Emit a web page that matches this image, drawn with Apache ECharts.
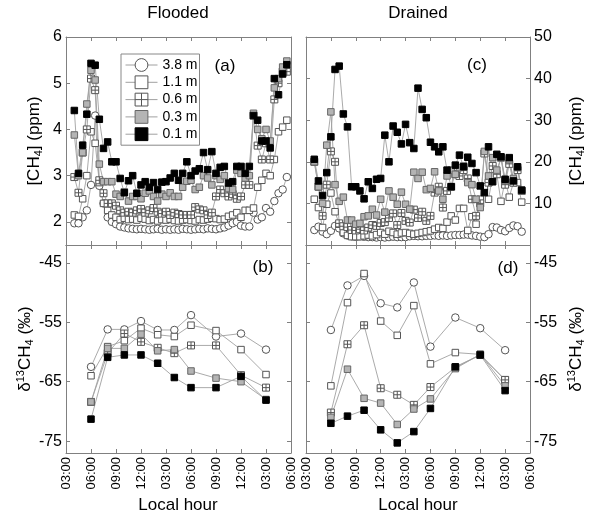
<!DOCTYPE html>
<html>
<head>
<meta charset="utf-8">
<script src="https://cdn.jsdelivr.net/npm/echarts@6/dist/echarts.min.js"></script>
<style>
html, body { margin: 0; padding: 0; background: #fff; }
#chart { width: 600px; height: 518px; }
</style>
</head>
<body>
<div id="chart"></div>
<script>
// sampling depths (legend order)
const depths = ['3.8 m', '1.1 m', '0.6 m', '0.3 m', '0.1 m']

// local hour (3 = 03:00 day 1, 30 = 06:00 day 2)
const floodedHours = [4.0, 4.5, 5.0, 5.5, 6.0, 6.5, 7.0, 7.5, 8.0, 8.5, 9.0, 9.5, 10.0, 10.5, 11.0, 11.5, 12.0, 12.5,
    13.0, 13.5, 14.0, 14.5, 15.0, 15.5, 16.0, 16.5, 17.0, 17.5, 18.0, 18.5, 19.0, 19.5, 20.0, 20.5, 21.0, 21.5,
    22.0, 22.5, 23.0, 23.5, 24.0, 24.5, 25.0, 25.5, 26.0, 26.5, 27.0, 27.5, 28.0, 28.5, 29.0, 29.5]
const drainedHours = [4.0, 4.5, 5.0, 5.5, 6.0, 6.5, 7.0, 7.5, 8.0, 8.5, 9.0, 9.5, 10.0, 10.5, 11.0, 11.5, 12.0, 12.5,
    13.0, 13.5, 14.0, 14.5, 15.0, 15.5, 16.0, 16.5, 17.0, 17.5, 18.0, 18.5, 19.0, 19.5, 20.0, 20.5, 21.0, 21.5,
    22.0, 22.5, 23.0, 23.5, 24.0, 24.5, 25.0, 25.5, 26.0, 26.5, 27.0, 27.5, 28.0, 28.5, 29.0]
const isoHours = [6, 8, 10, 12, 14, 16, 18, 21, 24, 27]

// (a) flooded [CH4] ppm
const flooded38 = [1.97, 1.97, 2.10, 2.25, 2.80, 4.30, 2.78, 2.40, 2.10, 2.00, 1.95, 1.90,
    1.88, 1.86, 1.85, 1.84, 1.85, 1.84, 1.83, 1.84, 1.85, 1.83, 1.84, 1.83, 1.84, 1.83, 1.85, 1.84, 1.83, 1.84,
    1.85, 1.84, 1.86, 1.85, 1.84, 1.86, 1.88,
    1.92, 1.97, 2.00, 1.92, 1.90, 1.90, 2.20, 2.05, 2.10, 2.30, 2.22, 2.45, 2.62, 2.70, 2.97]
const flooded11 = [2.15, 2.12, 2.50, 3.00, 3.95, 3.70, 2.85, 2.40, 2.25, 2.15, 2.10, 2.05,
    2.08, 2.05, 2.06, 2.04, 2.08, 2.06, 2.03, 2.05, 2.02, 2.05, 2.04, 2.06, 2.03, 2.02, 2.04, 2.05, 2.03, 2.02,
    2.05, 2.04, 2.06, 2.08, 2.07, 2.05, 2.06,
    2.12, 2.15, 2.20, 2.10, 2.25, 2.25, 2.30, 2.75, 2.90, 3.05, 3.00, 3.35, 3.95, 4.05, 4.20]
const flooded06 = [2.97, 2.63, 3.50, 4.00, 5.10, 4.85, 2.90, 2.62, 2.40, 2.40, 2.35, 2.25, 2.20, 2.22, 2.20,
    2.25, 2.28, 2.20, 2.25, 2.30, 2.22, 2.18, 2.22, 2.15, 2.20, 2.17, 2.15, 2.15, 2.15, 2.32, 2.27, 2.25, 2.15,
    2.20, 2.55, 2.70, 2.62, 2.55, 2.60, 2.50, 2.55, 2.80, 2.80, 4.30, 3.65, 3.35, 3.70, 3.35, 4.65, 5.00, 5.25, 5.25]
const flooded03 = [3.88, 3.00, 3.50, 4.55, 5.28, 5.07, 3.25, 2.87, 2.87, 2.87, 2.60, 2.55, 2.65, 2.45, 2.55,
    2.55, 2.50, 2.62, 2.67, 2.55, 2.45, 2.60, 2.55, 2.63, 2.55, 2.55, 2.75, 2.88, 2.90, 2.70, 2.75, 3.00, 2.95,
    2.80, 3.00, 2.92, 3.00, 2.72, 2.70, 3.12, 3.05, 2.95, 3.00, 4.35, 4.00, 3.80, 4.00, 3.75, 4.90, 5.10, 5.35, 5.48]
const flooded01 = [4.41, 3.05, 3.66, 4.33, 5.43, 5.39, 4.22, 3.59, 3.73, 3.30, 3.30, 2.94, 2.63, 2.89, 3.00,
    2.62, 2.80, 2.87, 2.75, 2.85, 2.70, 2.86, 2.87, 2.95, 3.05, 2.90, 3.05, 3.30, 3.00, 3.10, 3.15, 3.50, 3.13,
    3.52, 3.05, 3.18, 3.20, 2.84, 2.87, 3.20, 3.20, 3.05, 3.20, 4.30, 4.20, 3.75, 3.75, 3.60, 5.10, 4.75, 5.20, 5.40]

// (c) drained [CH4] ppm
const drained38 = [3.6, 4.4, 3.2, 2.6, 3.4, 4.6, 4.0, 2.8, 2.3, 2.1, 2.0, 2.1, 2.0, 1.9, 1.9, 1.8, 1.9, 1.8,
    1.9, 2.0, 1.9, 1.9, 1.9, 2.1, 2.2, 2.1, 2.1, 2.2, 2.2, 2.3, 2.2, 2.3, 2.2, 2.3, 2.4, 2.4, 2.5, 2.5, 2.3,
    2.2, 2.0, 1.9, 2.6, 4.3, 4.2, 3.6, 3.3, 4.1, 4.7, 4.5, 3.2]
const drained11 = [11.0, 9.0, 4.2, 9.8, 12.5, 8.0, 5.0, 3.0, 2.3, 2.0, 2.0, 2.0, 2.2, 2.4, 2.2, 2.5, 3.0, 2.6,
    3.3, 3.0, 2.6, 2.9, 3.0, 2.8, 2.6, 2.8, 3.0, 3.2, 3.4, 3.8, 4.2, 4.0, 5.5, 7.0, 6.0, 8.8, 8.8, 3.5, 6.8,
    5.0, 11.0, 14.0, 11.0, 16.6, 17.0, 10.5, 15.5, 11.5, 15.0, 15.0, 10.3]
const drained06 = [20.0, 14.0, 7.0, 14.5, 22.5, 20.0, 5.2, 4.5, 4.3, 3.6, 3.5, 3.8, 3.5, 4.2, 4.8, 4.6, 5.3,
    5.5, 6.5, 7.6, 4.8, 7.7, 5.8, 5.4, 8.5, 6.5, 8.0, 5.8, 7.0, 12.6, 14.0, 9.0, 13.0, 14.0, 17.0, 16.6, 18.0,
    16.0, 11.0, 7.0, 10.0, 22.0, 15.0, 19.0, 17.0, 21.0, 14.5, 19.5, 15.0, 18.0, 13.0]
const drained03 = [20.0, 14.0, 10.0, 24.0, 32.0, 14.5, 10.5, 11.5, 6.0, 6.0, 5.0, 5.2, 6.8, 7.0, 8.6, 7.2,
    11.0, 7.9, 13.0, 11.5, 9.8, 12.7, 9.8, 8.6, 17.5, 16.0, 17.5, 13.3, 13.6, 17.6, 13.0, 11.0, 16.6, 18.0,
    17.0, 18.6, 19.0, 15.0, 14.5, 11.0, 9.0, 22.5, 16.6, 21.0, 18.0, 21.0, 15.5, 20.5, 16.0, 18.6, 13.0]
const drained01 = [20.6, 15.4, 11.9, 17.4, 26.0, 42.2, 43.0, 31.5, 28.4, 14.0, 14.0, 13.0, 11.1, 15.2, 13.6,
    15.8, 16.0, 26.4, 20.0, 28.6, 27.1, 24.3, 29.0, 24.6, 23.2, 37.7, 32.6, 30.6, 24.7, 23.6, 22.4, 23.6,
    18.0, 14.0, 19.2, 21.6, 18.8, 21.1, 19.6, 17.4, 14.2, 12.6, 23.6, 15.2, 21.8, 21.2, 15.8, 21.0, 15.4, 18.8, 13.2]

// (b) flooded d13C-CH4 permil
const floodedIso38 = [-62.5, -56.2, -56.2, -54.8, -56.3, -56.3, -53.8, -57.4, -56.9, -59.6]
const floodedIso11 = [-64.0, -59.1, -58.1, -56.0, -57.1, -57.4, -55.5, -56.4, -59.6, -63.8]
const floodedIso06 = [-68.4, -60.2, -56.9, -58.3, -59.3, -60.2, -58.9, -58.9, -63.9, -66.0]
const floodedIso03 = [-68.4, -59.4, -59.4, -57.0, -59.8, -59.6, -63.2, -64.4, -65.0, -68.0]
const floodedIso01 = [-71.3, -60.9, -60.5, -60.5, -61.9, -64.3, -66.0, -66.0, -64.1, -68.1]

// (d) drained d13C-CH4 permil
const drainedIso38 = [-56.3, -48.8, -47.2, -51.8, -52.5, -48.3, -59.1, -54.2, -56.0, -59.7]
const drainedIso11 = [-65.7, -51.7, -46.8, -54.8, -57.2, -52.2, -62.0, -60.1, -60.4, -64.7]
const drainedIso06 = [-70.2, -58.7, -55.5, -66.1, -67.2, -68.9, -65.9, -62.6, -60.5, -64.7]
const drainedIso03 = [-71.0, -62.9, -67.8, -68.6, -72.2, -69.6, -67.9, -62.8, -60.4, -65.7]
const drainedIso01 = [-72.0, -70.8, -69.8, -73.1, -75.3, -73.4, -69.5, -62.5, -60.5, -66.5]

const FONT = 'Liberation Sans, Arial, sans-serif'
const AXIS_GRAY = '#808080'

// marker look per depth
const crossSquare = 'path://M0,0L10,0L10,10L0,10Z M5,0L5,10 M0,5L10,5'
const markers = [
    { symbol: 'circle', size: 7.5, fill: '#fff', border: '#555' },
    { symbol: 'rect', size: 6.5, fill: '#fff', border: '#555' },
    { symbol: crossSquare, size: 7, fill: '#fff', border: '#555' },
    { symbol: 'rect', size: 6.5, fill: '#b4b4b4', border: '#666' },
    { symbol: 'rect', size: 6.5, fill: '#000', border: '#000' },
]

function pairs(xs, ys) {
    return xs.map((x, i) => [x, ys[i]])
}

function hourLabel(v) {
    let h = v % 12
    if (h === 0) h = 12
    return (h < 10 ? '0' : '') + h + ':00'
}

function makeSeries(grid, hours, list) {
    return list.map((ys, k) => ({
        type: 'line',
        name: depths[k],
        xAxisIndex: grid * 2,
        yAxisIndex: grid * 2,
        data: pairs(hours, ys),
        symbol: markers[k].symbol,
        symbolSize: markers[k].size,
        showAllSymbol: true,
        lineStyle: { color: '#a0a0a0', width: 0.9 },
        itemStyle: { color: markers[k].fill, borderColor: markers[k].border, borderWidth: 1 },
        emphasis: { disabled: true },
        animation: false,
    }))
}

const tickStyle = { inside: true, length: 4, lineStyle: { color: AXIS_GRAY } }
const lineStyle = { onZero: false, lineStyle: { color: AXIS_GRAY, width: 1 } }

function xPair(grid, labels) {
    const base = {
        gridIndex: grid, type: 'value', min: 3, max: 30, interval: 3,
        axisLine: lineStyle, axisTick: tickStyle, splitLine: { show: false },
    }
    return [
        Object.assign({}, base, {
            position: 'bottom',
            axisLabel: {
                show: labels, rotate: 90, margin: 4, fontSize: 13, color: '#000',
                fontFamily: FONT, formatter: hourLabel,
            },
        }),
        Object.assign({}, base, { position: 'top', axisLabel: { show: false } }),
    ]
}

function yPair(grid, min, max, values, labelSide, name, rich, tickValues) {
    const base = {
        gridIndex: grid, type: 'value', min, max,
        axisLine: lineStyle, splitLine: { show: false },
        axisTick: Object.assign({ customValues: tickValues || values }, tickStyle),
    }
    const labelled = {
        position: labelSide,
        axisLabel: { customValues: values, margin: 4, fontSize: 16, color: '#000', fontFamily: FONT },
        name, nameLocation: 'middle', nameGap: labelSide === 'left' ? 22 : 36,
        nameTextStyle: { fontSize: 17, color: '#000', fontFamily: FONT, lineHeight: 20, rich },
    }
    const plain = { position: labelSide === 'left' ? 'right' : 'left', axisLabel: { show: false } }
    const first = labelSide === 'left' ? labelled : plain
    const second = labelSide === 'left' ? plain : labelled
    return [Object.assign({}, base, first), Object.assign({}, base, second)]
}

const richCH4 = {
    s: { fontSize: 11, fontFamily: FONT, verticalAlign: 'bottom', lineHeight: 20 },
}
const richIso = {
    s: { fontSize: 11, fontFamily: FONT, verticalAlign: 'bottom', lineHeight: 20 },
    p: { fontSize: 11, fontFamily: FONT, verticalAlign: 'top', lineHeight: 20 },
}
const nameCH4 = '[CH{s|4}] (ppm)'
const nameIso = 'δ{p|13}CH{s|4} (‰)'

const isoTicks = [-75, -65, -55, -45]

const option = {
    backgroundColor: '#fff',
    animation: false,
    textStyle: { fontFamily: FONT },
    grid: [
        { left: 66, top: 37, width: 225, height: 208 },
        { left: 306, top: 37, width: 224, height: 208 },
        { left: 66, top: 245, width: 225, height: 208 },
        { left: 306, top: 245, width: 224, height: 208 },
    ],
    xAxis: [].concat(xPair(0, false), xPair(1, false), xPair(2, true), xPair(3, true)),
    yAxis: [].concat(
        yPair(0, 1.5, 6, [2, 3, 4, 5, 6], 'left', nameCH4, richCH4),
        yPair(1, 0, 50, [10, 20, 30, 40, 50], 'right', nameCH4, richCH4, [10, 20, 30, 40]),
        yPair(2, -77, -42, isoTicks, 'left', nameIso, richIso),
        yPair(3, -77, -42, isoTicks, 'right', nameIso, richIso)
    ),
    legend: {
        orient: 'vertical', left: 121, top: 54,
        itemWidth: 32, itemHeight: 16, itemGap: 1.3,
        padding: [3, 2, 3, 4],
        borderColor: '#888', borderWidth: 1,
        backgroundColor: '#fff',
        textStyle: { fontSize: 14, color: '#000', lineHeight: 16, fontFamily: FONT },
        itemStyle: { borderWidth: 1 },
        lineStyle: { width: 1 },
        data: depths,
        selectedMode: false,
    },
    series: [].concat(
        makeSeries(0, floodedHours, [flooded38, flooded11, flooded06, flooded03, flooded01]),
        makeSeries(1, drainedHours, [drained38, drained11, drained06, drained03, drained01]),
        makeSeries(2, isoHours, [floodedIso38, floodedIso11, floodedIso06, floodedIso03, floodedIso01]),
        makeSeries(3, isoHours, [drainedIso38, drainedIso11, drainedIso06, drainedIso03, drainedIso01])
    ),
}

function label(text, x, y, size) {
    return {
        type: 'text', x, y,
        style: { text, fontSize: size, fontFamily: FONT, fill: '#000', align: 'center', verticalAlign: 'middle' },
    }
}
option.graphic = [
    label('Flooded', 178, 13, 17),
    label('Drained', 418, 13, 17),
    label('Local hour', 178, 505, 17),
    label('Local hour', 418, 505, 17),
    label('(a)', 225, 66, 17),
    label('(b)', 263, 267, 17),
    label('(c)', 477, 65, 17),
    label('(d)', 508, 268, 17),
]

const myChart = echarts.init(document.getElementById('chart'))
myChart.setOption(option)
</script>
</body>
</html>
